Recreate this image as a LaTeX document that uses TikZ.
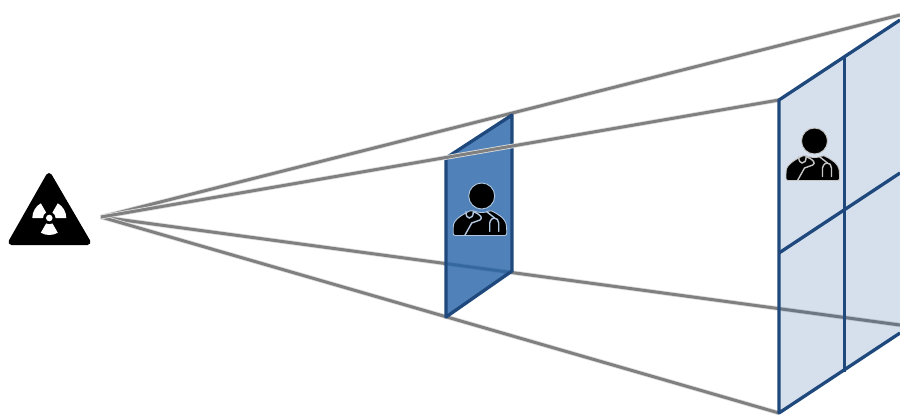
\documentclass[tikz,border=0pt]{standalone}
\usepackage{xcolor}
\usetikzlibrary{calc}
\definecolor{planeedge}{HTML}{1F497D}
\definecolor{planedark}{RGB}{36,99,168}
\definecolor{planelight}{RGB}{27,83,155}
\begin{document}
\begin{tikzpicture}[x=1pt,y=-1pt,
 ray/.style={draw=gray,line width=3pt,preaction={draw=gray!25,line width=4.6pt}},
 edge/.style={draw=planeedge,line width=3.3pt,line join=round},
 detector/.style={fill=planedark,fill opacity=.8},
 panel/.style={fill=planelight,fill opacity=.18},
 pics/doctor/.style={code={
  \fill[black,draw=#1,line width=.9pt] (0,0) circle (13);
  \fill[black,draw=#1,line width=.9pt,rounded corners=2] (-28.5,39.5) -- (-28.5,32) .. controls (-28,23) and (-18,18) .. (-10,14)
   .. controls (-4,17) and (4,17) .. (8,14) .. controls (16,18) and (24,22) .. (25,32) -- (25,39.5) -- cycle;
  \draw[#1,line width=1.4pt,line cap=round] (-16.7,39) -- (-10,27) -- (-1.7,24) .. controls (1,22) and (0,19) .. (-8.4,15.7);
  \draw[#1,line width=1.4pt,line cap=round] (-15.7,15.7) .. controls (-16,20) and (-14,22) .. (-12.4,22) .. controls (-10,22) and (-8.4,20) .. (-8.4,15.7);
  \draw[#1,line width=1.4pt,line cap=round] (5,15.7) -- (13,22);
  \draw[#1,line width=1.4pt,line cap=round] (8,35.5) -- (8,27) .. controls (9,23) and (11,22) .. (12.5,22) .. controls (15,22) and (17,24) .. (17,27) -- (17,35.5);
 }}]
\useasboundingbox (0,0) rectangle (900,415);
\clip (0,0) rectangle (900,415);
\coordinate (src) at (101,217);
\coordinate (d1) at (446,158);
\coordinate (d2) at (512,115);
\coordinate (d3) at (512,271);
\coordinate (d4) at (446,317);
\coordinate (p1) at (779,100);
\coordinate (p2) at (900,20);
\coordinate (p3) at (900,333);
\coordinate (p4) at (779,413);
\coordinate (m1) at (844.5,57);
\coordinate (m2) at (844.5,372);
\coordinate (h1) at (779,253);
\coordinate (h2) at (900,173);
\coordinate (topend) at (900,15);
\coordinate (lowend) at (900,325);
% source
\fill[black,draw=black,line width=6pt,line join=round] (49,176) -- (11.5,242) -- (87.5,242) -- cycle;
\fill[white] (49.3,218) circle (3.3);
\foreach \a in {90,210,330}
 \fill[white] ($(49.3,218)+(\a-30:6.3)$) arc (\a-30:\a+30:6.3) -- ($(49.3,218)+(\a+30:17)$) arc (\a+30:\a-30:17) -- cycle;
% rays behind the planes
\draw[ray] (src) -- (topend);
\draw[ray] (src) -- (lowend);
\draw[ray] (src) -- (p4);
% small detector
\path[detector] (d1) -- (d2) -- (d3) -- (d4) -- cycle;
\draw[edge] (d1) -- (d2) -- (d3) -- (d4) -- cycle;
\draw[ray] (src) -- (p1);
\pic at (481.7,196) {doctor=white!65!planedark};
% large panel
\path[panel] (p1) -- (p2) -- (p3) -- (p4) -- cycle;
\draw[edge] (p2) -- (p1) -- (p4) -- (p3);
\draw[edge] (m1) -- (m2);
\draw[edge] (h1) -- (h2);
\pic at (814.5,141) {doctor=gray!45};
\end{tikzpicture}
\end{document}
